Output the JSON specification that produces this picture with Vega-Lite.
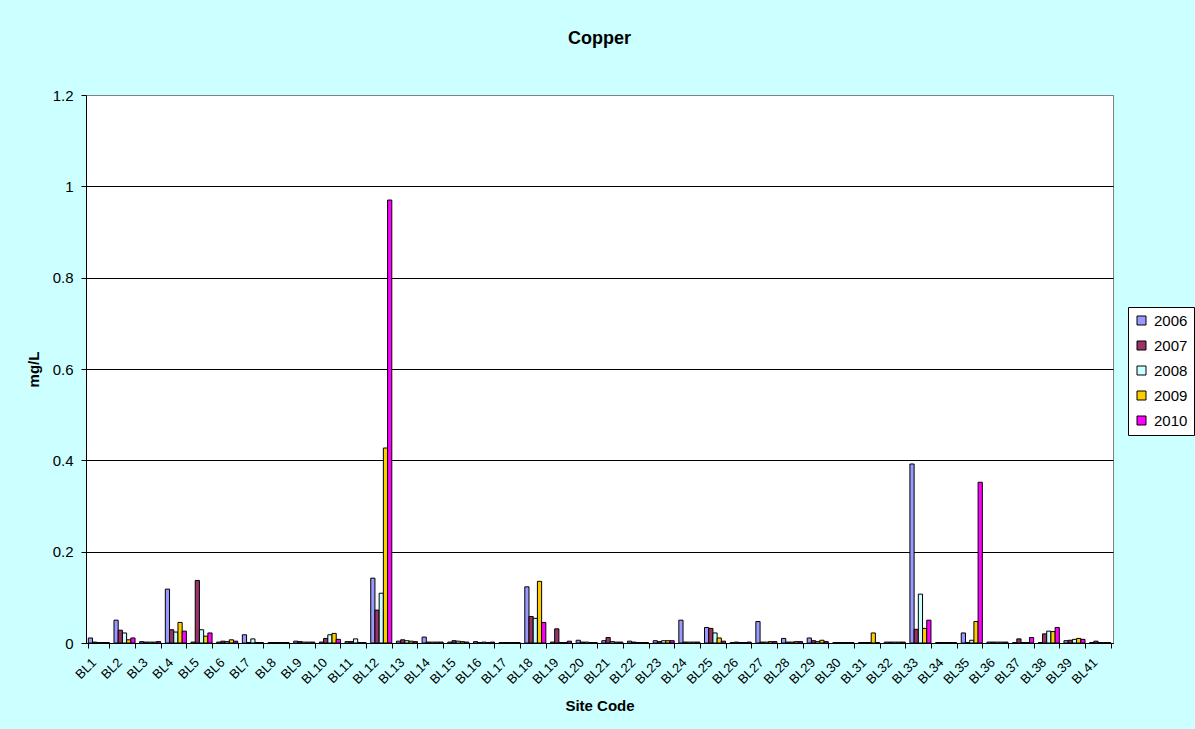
{
  "$schema": "https://vega.github.io/schema/vega-lite/v6.json",
  "autosize": "none",
  "width": 1027,
  "height": 548,
  "padding": {"left": 86, "top": 95, "right": 82, "bottom": 86},
  "background": "#CCFFFF",
  "title": {"text": "Copper", "fontSize": 18, "font": "Liberation Sans", "fontWeight": "bold", "color": "black", "offset": 40, "anchor": "middle"},
  "config": {"view": {"fill": "white", "stroke": "#808080"}, "font": "Liberation Sans"},
  "data": {"values": [
    {"site":"BL1","year":"2006","value":0.011},{"site":"BL1","year":"2007","value":0.002},{"site":"BL1","year":"2008","value":0.001},{"site":"BL1","year":"2009","value":0.001},{"site":"BL1","year":"2010","value":0.001},
    {"site":"BL2","year":"2006","value":0.050},{"site":"BL2","year":"2007","value":0.028},{"site":"BL2","year":"2008","value":0.022},{"site":"BL2","year":"2009","value":0.007},{"site":"BL2","year":"2010","value":0.011},
    {"site":"BL3","year":"2006","value":0.003},{"site":"BL3","year":"2007","value":0.002},{"site":"BL3","year":"2008","value":0.002},{"site":"BL3","year":"2009","value":0.002},{"site":"BL3","year":"2010","value":0.003},
    {"site":"BL4","year":"2006","value":0.118},{"site":"BL4","year":"2007","value":0.029},{"site":"BL4","year":"2008","value":0.024},{"site":"BL4","year":"2009","value":0.045},{"site":"BL4","year":"2010","value":0.026},
    {"site":"BL5","year":"2006","value":0.002},{"site":"BL5","year":"2007","value":0.137},{"site":"BL5","year":"2008","value":0.029},{"site":"BL5","year":"2009","value":0.015},{"site":"BL5","year":"2010","value":0.022},
    {"site":"BL6","year":"2006","value":0.002},{"site":"BL6","year":"2007","value":0.004},{"site":"BL6","year":"2008","value":0.003},{"site":"BL6","year":"2009","value":0.007},{"site":"BL6","year":"2010","value":0.004},
    {"site":"BL7","year":"2006","value":0.018},{"site":"BL7","year":"2007","value":0.001},{"site":"BL7","year":"2008","value":0.009},{"site":"BL7","year":"2009","value":0.001},{"site":"BL7","year":"2010","value":0.001},
    {"site":"BL8","year":"2006","value":0.001},{"site":"BL8","year":"2007","value":0.001},{"site":"BL8","year":"2008","value":0.001},{"site":"BL8","year":"2009","value":0.001},{"site":"BL8","year":"2010","value":0.001},
    {"site":"BL9","year":"2006","value":0.004},{"site":"BL9","year":"2007","value":0.003},{"site":"BL9","year":"2008","value":0.002},{"site":"BL9","year":"2009","value":0.002},{"site":"BL9","year":"2010","value":0.002},
    {"site":"BL10","year":"2006","value":0.002},{"site":"BL10","year":"2007","value":0.010},{"site":"BL10","year":"2008","value":0.018},{"site":"BL10","year":"2009","value":0.021},{"site":"BL10","year":"2010","value":0.008},
    {"site":"BL11","year":"2006","value":0.003},{"site":"BL11","year":"2007","value":0.003},{"site":"BL11","year":"2008","value":0.009},{"site":"BL11","year":"2009","value":0.001},{"site":"BL11","year":"2010","value":0.001},
    {"site":"BL12","year":"2006","value":0.142},{"site":"BL12","year":"2007","value":0.072},{"site":"BL12","year":"2008","value":0.109},{"site":"BL12","year":"2009","value":0.427},{"site":"BL12","year":"2010","value":0.970},
    {"site":"BL13","year":"2006","value":0.004},{"site":"BL13","year":"2007","value":0.007},{"site":"BL13","year":"2008","value":0.005},{"site":"BL13","year":"2009","value":0.004},{"site":"BL13","year":"2010","value":0.003},
    {"site":"BL14","year":"2006","value":0.013},{"site":"BL14","year":"2007","value":0.002},{"site":"BL14","year":"2008","value":0.002},{"site":"BL14","year":"2009","value":0.002},{"site":"BL14","year":"2010","value":0.002},
    {"site":"BL15","year":"2006","value":0.002},{"site":"BL15","year":"2007","value":0.005},{"site":"BL15","year":"2008","value":0.004},{"site":"BL15","year":"2009","value":0.003},{"site":"BL15","year":"2010","value":0.002},
    {"site":"BL16","year":"2006","value":0.003},{"site":"BL16","year":"2007","value":0.001},{"site":"BL16","year":"2008","value":0.002},{"site":"BL16","year":"2009","value":0.001},{"site":"BL16","year":"2010","value":0.002},
    {"site":"BL17","year":"2006","value":0.001},{"site":"BL17","year":"2007","value":0.001},{"site":"BL17","year":"2008","value":0.001},{"site":"BL17","year":"2009","value":0.001},{"site":"BL17","year":"2010","value":0.001},
    {"site":"BL18","year":"2006","value":0.123},{"site":"BL18","year":"2007","value":0.058},{"site":"BL18","year":"2008","value":0.054},{"site":"BL18","year":"2009","value":0.135},{"site":"BL18","year":"2010","value":0.045},
    {"site":"BL19","year":"2006","value":0.002},{"site":"BL19","year":"2007","value":0.031},{"site":"BL19","year":"2008","value":0.001},{"site":"BL19","year":"2009","value":0.001},{"site":"BL19","year":"2010","value":0.004},
    {"site":"BL20","year":"2006","value":0.006},{"site":"BL20","year":"2007","value":0.002},{"site":"BL20","year":"2008","value":0.002},{"site":"BL20","year":"2009","value":0.001},{"site":"BL20","year":"2010","value":0.001},
    {"site":"BL21","year":"2006","value":0.005},{"site":"BL21","year":"2007","value":0.012},{"site":"BL21","year":"2008","value":0.003},{"site":"BL21","year":"2009","value":0.002},{"site":"BL21","year":"2010","value":0.002},
    {"site":"BL22","year":"2006","value":0.004},{"site":"BL22","year":"2007","value":0.002},{"site":"BL22","year":"2008","value":0.001},{"site":"BL22","year":"2009","value":0.001},{"site":"BL22","year":"2010","value":0.001},
    {"site":"BL23","year":"2006","value":0.005},{"site":"BL23","year":"2007","value":0.003},{"site":"BL23","year":"2008","value":0.005},{"site":"BL23","year":"2009","value":0.005},{"site":"BL23","year":"2010","value":0.005},
    {"site":"BL24","year":"2006","value":0.050},{"site":"BL24","year":"2007","value":0.002},{"site":"BL24","year":"2008","value":0.002},{"site":"BL24","year":"2009","value":0.002},{"site":"BL24","year":"2010","value":0.002},
    {"site":"BL25","year":"2006","value":0.034},{"site":"BL25","year":"2007","value":0.032},{"site":"BL25","year":"2008","value":0.022},{"site":"BL25","year":"2009","value":0.011},{"site":"BL25","year":"2010","value":0.004},
    {"site":"BL26","year":"2006","value":0.001},{"site":"BL26","year":"2007","value":0.002},{"site":"BL26","year":"2008","value":0.001},{"site":"BL26","year":"2009","value":0.001},{"site":"BL26","year":"2010","value":0.002},
    {"site":"BL27","year":"2006","value":0.047},{"site":"BL27","year":"2007","value":0.002},{"site":"BL27","year":"2008","value":0.002},{"site":"BL27","year":"2009","value":0.003},{"site":"BL27","year":"2010","value":0.003},
    {"site":"BL28","year":"2006","value":0.010},{"site":"BL28","year":"2007","value":0.002},{"site":"BL28","year":"2008","value":0.002},{"site":"BL28","year":"2009","value":0.003},{"site":"BL28","year":"2010","value":0.003},
    {"site":"BL29","year":"2006","value":0.011},{"site":"BL29","year":"2007","value":0.005},{"site":"BL29","year":"2008","value":0.003},{"site":"BL29","year":"2009","value":0.006},{"site":"BL29","year":"2010","value":0.003},
    {"site":"BL30","year":"2006","value":0.001},{"site":"BL30","year":"2007","value":0.001},{"site":"BL30","year":"2008","value":0.001},{"site":"BL30","year":"2009","value":0.001},{"site":"BL30","year":"2010","value":0.001},
    {"site":"BL31","year":"2006","value":0.001},{"site":"BL31","year":"2007","value":0.001},{"site":"BL31","year":"2008","value":0.001},{"site":"BL31","year":"2009","value":0.022},{"site":"BL31","year":"2010","value":0.001},
    {"site":"BL32","year":"2006","value":0.002},{"site":"BL32","year":"2007","value":0.002},{"site":"BL32","year":"2008","value":0.002},{"site":"BL32","year":"2009","value":0.002},{"site":"BL32","year":"2010","value":0.002},
    {"site":"BL33","year":"2006","value":0.392},{"site":"BL33","year":"2007","value":0.030},{"site":"BL33","year":"2008","value":0.107},{"site":"BL33","year":"2009","value":0.032},{"site":"BL33","year":"2010","value":0.050},
    {"site":"BL34","year":"2006","value":0.001},{"site":"BL34","year":"2007","value":0.001},{"site":"BL34","year":"2008","value":0.001},{"site":"BL34","year":"2009","value":0.001},{"site":"BL34","year":"2010","value":0.001},
    {"site":"BL35","year":"2006","value":0.022},{"site":"BL35","year":"2007","value":0.001},{"site":"BL35","year":"2008","value":0.006},{"site":"BL35","year":"2009","value":0.047},{"site":"BL35","year":"2010","value":0.352},
    {"site":"BL36","year":"2006","value":0.002},{"site":"BL36","year":"2007","value":0.002},{"site":"BL36","year":"2008","value":0.002},{"site":"BL36","year":"2009","value":0.002},{"site":"BL36","year":"2010","value":0.002},
    {"site":"BL37","year":"2006","value":0.001},{"site":"BL37","year":"2007","value":0.009},{"site":"BL37","year":"2008","value":0.001},{"site":"BL37","year":"2009","value":0.001},{"site":"BL37","year":"2010","value":0.012},
    {"site":"BL38","year":"2006","value":0.001},{"site":"BL38","year":"2007","value":0.020},{"site":"BL38","year":"2008","value":0.026},{"site":"BL38","year":"2009","value":0.025},{"site":"BL38","year":"2010","value":0.034},
    {"site":"BL39","year":"2006","value":0.005},{"site":"BL39","year":"2007","value":0.006},{"site":"BL39","year":"2008","value":0.008},{"site":"BL39","year":"2009","value":0.010},{"site":"BL39","year":"2010","value":0.008},
    {"site":"BL41","year":"2006","value":0.001},{"site":"BL41","year":"2007","value":0.004},{"site":"BL41","year":"2008","value":0.001},{"site":"BL41","year":"2009","value":0.001},{"site":"BL41","year":"2010","value":0.001}
  ]},
  "mark": {"type": "bar", "stroke": "black", "strokeWidth": 1},
  "encoding": {
    "x": {
      "field": "site", "type": "nominal", "sort": null,
      "scale": {"paddingInner": 0.18, "paddingOuter": 0.09},
      "axis": {
        "title": "Site Code", "titleFontSize": 15, "titleFontWeight": "bold", "titleColor": "black",
        "titleY": 62, "titleBaseline": "middle",
        "labelAngle": -45, "labelFontSize": 13, "labelColor": "black", "labelAlign": "right", "labelBaseline": "middle",
        "labelPadding": 12, "labelOffset": -5, "tickBand": "extent", "tickSize": 5, "tickColor": "black", "domainColor": "black", "grid": false
      }
    },
    "xOffset": {"field": "year", "type": "nominal", "scale": {"paddingInner": 0, "paddingOuter": 0}},
    "y": {
      "field": "value", "type": "quantitative",
      "scale": {"domain": [0, 1.2], "nice": false},
      "axis": {
        "title": "mg/L", "titleFontSize": 15, "titleFontWeight": "bold", "titleColor": "black",
        "titleX": -53, "titleY": 274, "titleAlign": "center", "titleBaseline": "middle",
        "values": [0, 0.2, 0.4, 0.6, 0.8, 1, 1.2], "format": "~g",
        "labelFontSize": 15, "labelColor": "black", "labelPadding": 8,
        "grid": true, "gridOpacity": 1,
        "gridColor": {"condition": {"test": "datum.value >= 1.2", "value": "#808080"}, "value": "black"},
        "tickSize": 5, "tickColor": "black", "domainColor": "black"
      }
    },
    "color": {
      "field": "year", "type": "nominal",
      "scale": {"domain": ["2006", "2007", "2008", "2009", "2010"], "range": ["#9999FF", "#993366", "#CCFFFF", "#FFCC00", "#FF00FF"]},
      "legend": {
        "orient": "none", "legendX": 1042, "legendY": 212, "title": null,
        "fillColor": "white", "strokeColor": "black", "padding": 6,
        "symbolType": "square", "symbolSize": 81, "symbolStrokeColor": "black", "symbolStrokeWidth": 1,
        "labelFontSize": 15, "labelColor": "black", "rowPadding": 9, "labelOffset": 5
      }
    }
  }
}
